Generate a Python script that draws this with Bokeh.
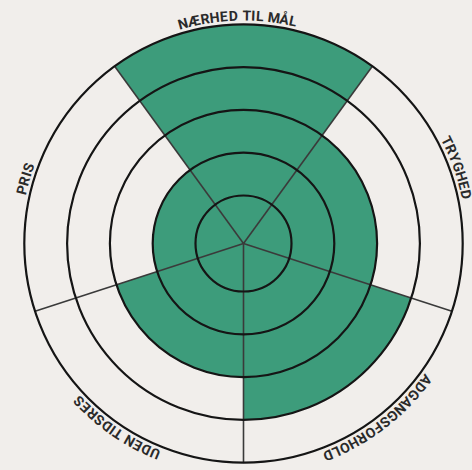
import math
from bokeh.plotting import figure
from bokeh.models import Range1d, ColumnDataSource
from bokeh.core.properties import value
from bokeh.embed import file_html
from bokeh.resources import INLINE

# ---- data ----
categories = ["NÆRHED TIL MÅL", "TRYGHED", "ADGANGSFORHOLD", "UDEN TIDSRES", "PRIS"]
scores = [5, 3, 4, 3, 2]
levels = [1, 2, 3, 4, 5]

# ---- styling / scale ----
BG = "#f1eeeb"
GREEN = "#3d9c7b"
R0 = 48.0        # radius of level 1
STEP = 42.8      # radius added per level
TEXT_R = 228.0   # radius of the label letters' middle line
LABEL_SHIFT = math.radians(1.5)  # labels sit a touch anticlockwise
FONT_PX = 14.0
TRACK = 1.4      # extra spacing between letters (px)

# approximate Liberation Sans Narrow Bold advance widths (em)
ADV = {"A": 0.59, "D": 0.59, "E": 0.55, "F": 0.50, "G": 0.64, "H": 0.59,
       "I": 0.23, "L": 0.50, "M": 0.68, "N": 0.59, "O": 0.64, "P": 0.55,
       "R": 0.59, "S": 0.55, "T": 0.50, "U": 0.59, "Y": 0.55, "Æ": 0.82,
       "Å": 0.59, " ": 0.23}

def radius_of(v):
    return R0 + (v - 1) * STEP

W, H = 472, 470
CX, CY = 243, 243  # centre in pixels from left / top of the figure

p = figure(width=W, height=H, output_backend="svg", toolbar_location=None,
           x_range=Range1d(-CX, W - CX), y_range=Range1d(-(H - CY), CY),
           min_border=0)
p.axis.visible = False
p.grid.visible = False
p.outline_line_color = None
p.background_fill_color = BG
p.border_fill_color = BG

n = len(categories)
span = 2 * math.pi / n
centers = [math.pi / 2 - i * span for i in range(n)]

src = ColumnDataSource(dict(
    x=[0] * n, y=[0] * n,
    r=[radius_of(s) for s in scores],
    start=[c - span / 2 for c in centers],
    end=[c + span / 2 for c in centers],
))
p.wedge(x="x", y="y", radius="r", start_angle="start", end_angle="end",
        source=src, fill_color=GREEN, line_color=None)

# divider lines
outer = radius_of(levels[-1])
bounds = [c + span / 2 for c in centers]
p.segment(x0=[0] * n, y0=[0] * n,
          x1=[outer * math.cos(a) for a in bounds],
          y1=[outer * math.sin(a) for a in bounds],
          line_color="#3a3a3a", line_width=1.6)

# rings
p.circle(x=[0] * len(levels), y=[0] * len(levels),
         radius=[radius_of(l) for l in levels],
         fill_color=None, line_color="#151515", line_width=2.2)

# labels written clockwise along the outer ring (letter by letter)
cx, cy, ct, ca = [], [], [], []
for label, c in zip(categories, centers):
    c = c + LABEL_SHIFT
    widths = [ADV.get(ch, 0.55) * FONT_PX for ch in label]
    total = sum(widths) + TRACK * (len(label) - 1)
    pos = -total / 2
    for ch, w in zip(label, widths):
        mid = pos + w / 2
        pos += w + TRACK
        if ch == " ":
            continue
        a = c - mid / TEXT_R
        cx.append(TEXT_R * math.cos(a))
        cy.append(TEXT_R * math.sin(a))
        ct.append(ch)
        ca.append(a - math.pi / 2)

p.text(x=cx, y=cy, text=ct, angle=ca,
       text_align="center", text_baseline="middle",
       text_font=value("Liberation Sans Narrow, Roboto"),
       text_font_size="%gpx" % FONT_PX,
       text_font_style="bold", text_color="#2a2a2a")

html = file_html(p, INLINE, title="chart")
html = html.replace("</head>", "<style>body{background:%s;}</style></head>" % BG, 1)
open("out.html", "w").write(html)
